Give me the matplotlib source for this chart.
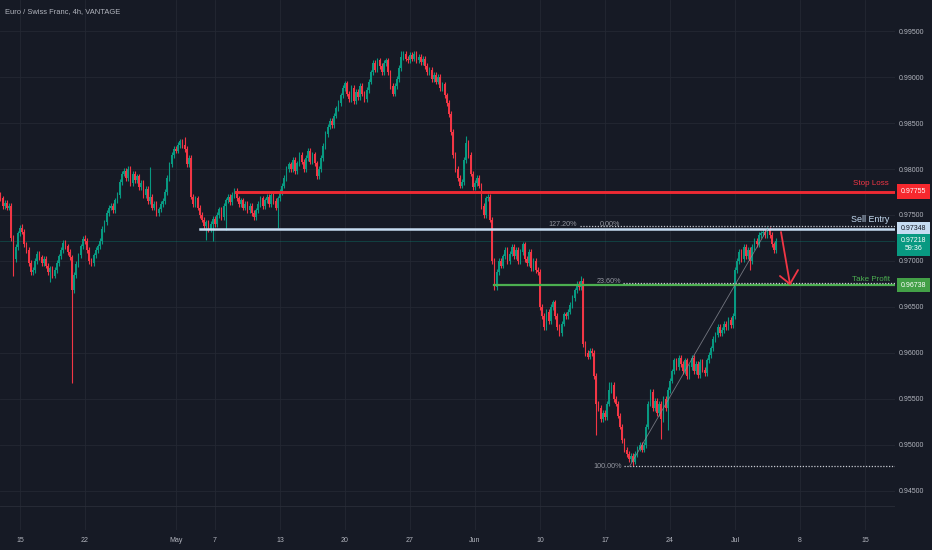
import matplotlib.pyplot as plt
from matplotlib.transforms import blended_transform_factory
import numpy as np

# 4h closes of EURCHF in 1/10000 CHF.
# bar 0 is Mon Apr 15 00:00, six bars per trading day, weekends skipped
first_bar = -9
first_open = 9772

april_closes = [
    9768, 9760, 9763, 9758, 9760, 9725, 9702, 9715, 9730,
    9736, 9732, 9718, 9712, 9698, 9688,
    9690, 9700, 9708, 9704, 9698, 9702,
    9695, 9688, 9692, 9684, 9690, 9698,
    9705, 9712, 9720, 9716, 9710, 9704,
    9668, 9685, 9697, 9706, 9716, 9724,
    9722, 9712, 9700, 9698, 9706, 9712,
    9716, 9722, 9735, 9742, 9752, 9758,
    9760, 9755, 9766, 9772, 9786, 9795,
    9798, 9790, 9800, 9785, 9795, 9788,
    9792, 9780, 9785, 9772, 9778, 9765,
    9770, 9758, 9762, 9752, 9756, 9762,
    9765, 9775, 9790, 9805, 9815, 9822,
]
may_closes = [
    9820, 9826, 9830, 9826, 9822, 9805,
    9812, 9770, 9762, 9768, 9758, 9750,
    9745, 9738, 9742, 9735, 9740, 9746,
    9740, 9750, 9756, 9748, 9760, 9766,
    9770, 9764, 9772, 9776, 9768, 9762,
    9766, 9758, 9762, 9755, 9760, 9752,
    9748, 9755, 9762, 9768, 9760, 9766,
    9770, 9762, 9772, 9765, 9758, 9768,
    9775, 9782, 9790, 9800, 9805, 9800,
    9810, 9798, 9806, 9815, 9808, 9800,
    9812, 9820, 9808, 9816, 9806, 9792,
    9800, 9812, 9825, 9838, 9846, 9852,
    9848, 9858, 9866, 9872, 9880, 9888,
    9893, 9882, 9876, 9888, 9874, 9884,
    9878, 9890, 9882, 9876, 9886, 9895,
    9905, 9915, 9908, 9918, 9912, 9905,
    9915, 9918, 9905, 9890, 9882, 9890,
    9898, 9910, 9922, 9925, 9920, 9918,
    9924, 9920, 9925, 9918, 9922, 9916,
    9920, 9912, 9905, 9908, 9898, 9902,
    9895, 9900, 9888, 9892, 9880, 9872,
    9860, 9840, 9815, 9800, 9790, 9782,
    9786, 9810, 9828, 9815, 9795, 9780,
]
june_closes = [
    9785, 9790, 9782, 9760, 9750, 9768,
    9770, 9745, 9700, 9672, 9688, 9700,
    9695, 9705, 9712, 9700, 9708, 9715,
    9705, 9712, 9700, 9710, 9718, 9702,
    9698, 9710, 9692, 9700, 9690, 9688,
    9650, 9640, 9628, 9645, 9635, 9650,
    9655, 9640, 9628, 9622, 9632, 9642,
    9640, 9645, 9652, 9660, 9668, 9675,
    9672, 9678, 9610, 9600, 9596, 9602,
    9600, 9575, 9545, 9540, 9528, 9535,
    9530, 9545, 9560, 9565, 9550, 9545,
    9532, 9520, 9505, 9495, 9490, 9485,
    9488, 9482, 9490, 9496, 9500, 9495,
    9500, 9520, 9545, 9558, 9540, 9548,
    9535, 9545, 9528, 9550, 9540, 9560,
    9570, 9580, 9592, 9585, 9595, 9588,
    9580, 9592, 9575, 9585, 9595, 9580,
    9588, 9576, 9590, 9582, 9578, 9592,
    9598, 9605, 9615, 9620, 9628, 9622,
    9625, 9632, 9628, 9636, 9630, 9640,
]
july_closes = [
    9690, 9700, 9710, 9702, 9715, 9705,
    9712, 9700, 9715, 9722, 9718, 9728,
    9730, 9732, 9728, 9734, 9728, 9718,
    9712, 9722,
]

# wicks reaching well past the bodies (bar -> price in 1/10000)
big_highs = {1: 9740, 30: 9728, 60: 9802, 76: 9835, 176: 9928, 182: 9928,
             206: 9836, 259: 9684, 272: 9568, 345: 9737}
big_lows = {-3: 9684, 14: 9677, 24: 9567, 86: 9723, 89: 9722, 95: 9734,
            119: 9736, 266: 9511, 283: 9477, 296: 9507, 299: 9516, 337: 9690}

date_days = [0, 5, 12, 15, 20, 25, 30, 35, 40, 45, 50, 55, 60, 65]
date_labels = ['15', '22', 'May', '7', '13', '20', '27', 'Jun', '10', '17', '24', 'Jul', '8', '15']
price_ticks = [0.945, 0.950, 0.955, 0.960, 0.965, 0.970, 0.975, 0.980, 0.985, 0.990, 0.995]

stop_loss = 0.97755
sell_entry = 0.97348
take_profit = 0.96738
last_price = 0.97218
fib_low = 0.9477

BG = '#161a25'
GRID = '#242833'
UP = '#089981'
DOWN = '#f23645'
TXT = '#b2b5be'


def candles(ax):
    closes = np.array(april_closes + may_closes + june_closes + july_closes) / 10000
    bars = np.arange(len(closes)) + first_bar
    opens = np.r_[first_open / 10000, closes[:-1]]
    highs = np.maximum(opens, closes) + 0.0003
    lows = np.minimum(opens, closes) - 0.0003
    for b, v in big_highs.items():
        highs[b - first_bar] = v / 10000
    for b, v in big_lows.items():
        lows[b - first_bar] = v / 10000
    days = bars / 6
    cols = np.where(closes >= opens, UP, DOWN)
    ax.vlines(days, lows, highs, colors=cols, lw=0.8, zorder=3)
    body = np.maximum(np.abs(closes - opens), 0.00008)
    ax.bar(days, body, bottom=np.minimum(opens, closes), width=0.135,
           color=cols, linewidth=0, zorder=4)


def drawings(ax):
    right = 67.31
    ax.axhline(last_price, color=UP, lw=0.6, alpha=0.35, zorder=2)
    ax.plot([16.6, right], [stop_loss] * 2, color='#ee2a33', lw=2.1, zorder=5)
    ax.plot([13.85, right], [sell_entry] * 2, color='#c6dcf2', lw=1.8, zorder=5)
    ax.plot([36.5, right], [take_profit] * 2, color='#4caf50', lw=1.6, zorder=5)

    dots = dict(color='#c8cad2', lw=0.9, ls=(0, (1, 1.3)), zorder=5)
    ax.plot([43.1, right], [0.97378] * 2, **dots)
    ax.plot([46.4, right], [0.96762] * 2, **dots)
    ax.plot([46.5, right], [fib_low] * 2, **dots)
    ax.plot([46.9, 57.5], [fib_low, sell_entry], color='#8a8d96', lw=0.6, alpha=0.8, zorder=5)

    fib = dict(color='#9598a1', fontsize=5.2, ha='right', va='center', zorder=6)
    ax.text(42.85, 0.97392, '127.20%', **fib)
    ax.text(46.2, 0.97392, '0.00%', **fib)
    ax.text(46.25, 0.96772, '23.60%', **fib)
    ax.text(46.3, fib_low, '100.00%', **fib)

    ax.text(66.85, 0.97837, 'Stop Loss', color='#f23645', fontsize=5.8, ha='right', va='center')
    ax.text(66.9, 0.97446, 'Sell Entry', color='#c6dcf2', fontsize=6.4, ha='right', va='center')
    ax.text(66.9, 0.96795, 'Take Profit', color='#4caf50', fontsize=5.8, ha='right', va='center')

    # sell arrow towards the take profit
    arrow = dict(color=DOWN, lw=1.3, zorder=6, solid_capstyle='round')
    ax.plot([58.54, 59.23], [0.97315, 0.96750], **arrow)
    ax.plot([58.46, 59.23, 59.85], [0.96837, 0.96750, 0.96902], **arrow)

    # price boxes on the scale
    tr = blended_transform_factory(ax.transAxes, ax.transData)
    box = dict(fontsize=5, ha='center', va='center', transform=tr, zorder=7)
    ax.text(1.0205, stop_loss, '0.97755', color='white',
            bbox=dict(boxstyle='square,pad=0.55', fc='#f7282e', ec='none'), **box)
    ax.text(1.0205, sell_entry, '0.97348', color='#131722',
            bbox=dict(boxstyle='square,pad=0.55', fc='#c6dcf2', ec='none'), **box)
    ax.text(1.0205, last_price - 0.0004, '0.97218\n59:36', color='white', linespacing=1.25,
            bbox=dict(boxstyle='square,pad=0.5', fc=UP, ec='none'), **box)
    ax.text(1.0205, take_profit, '0.96738', color='white',
            bbox=dict(boxstyle='square,pad=0.55', fc='#43a047', ec='none'), **box)


def main():
    plt.rcParams['font.family'] = ['Liberation Sans', 'DejaVu Sans']
    fig = plt.figure(figsize=(9.32, 5.5), dpi=100, facecolor=BG)
    ax = fig.add_axes([0, 20 / 550, 895 / 932, 530 / 550], facecolor=BG)
    ax.set_xlim(-1.538, 67.31)
    ax.set_ylim(0.94076, 0.99837)
    for s in ax.spines.values():
        s.set_visible(False)
    for d in date_days:
        ax.axvline(d, color=GRID, lw=0.6, zorder=1)
    for p in price_ticks:
        ax.axhline(p, color=GRID, lw=0.6, zorder=1)
    ax.axhline(0.94337, color='#2a2e39', lw=0.6, zorder=1)

    candles(ax)
    drawings(ax)

    ax.yaxis.tick_right()
    ax.set_yticks(price_ticks)
    ax.set_yticklabels(['%.5f' % p for p in price_ticks])
    ax.set_xticks(date_days)
    ax.set_xticklabels(date_labels)
    ax.tick_params(axis='both', length=0, colors=TXT, labelsize=5)
    ax.tick_params(axis='y', pad=3)
    ax.tick_params(axis='x', pad=5)

    fig.text(5 / 932, 1 - 12 / 550, 'Euro / Swiss Franc, 4h, VANTAGE',
             color=TXT, fontsize=5.4, va='center')
    fig.savefig('out.png', dpi=100, facecolor=BG)


if __name__ == "__main__":
    main()
